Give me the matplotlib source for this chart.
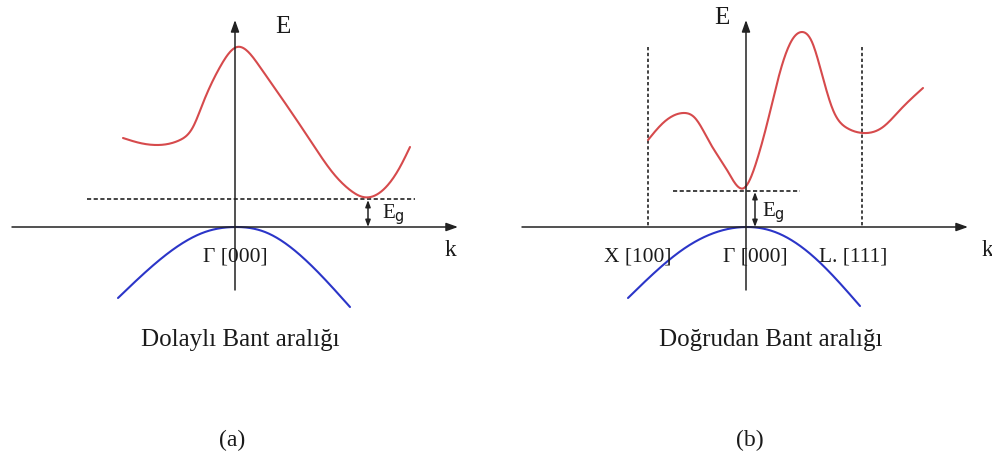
import numpy as np
import matplotlib
matplotlib.use("Agg")
import matplotlib.pyplot as plt

# conduction (red) and valence (blue) bands, read in pixel units (x right, y down)
cb_a_x = [123, 140, 157, 180, 193, 203, 220, 237, 260, 283, 310, 333, 350, 363, 383, 400, 410]
cb_a_y = [138, 143, 145, 140, 127, 103, 67, 47, 67, 100, 140, 173, 190, 197, 190, 167, 147]
vb_a_x = [118, 167, 205, 235, 265, 300, 350]
vb_a_y = [298, 254, 232, 227, 232, 255, 307]

cb_b_x = [648, 663, 683, 695, 710, 727, 744, 757, 768, 780, 792, 802, 812, 820, 833, 847, 863, 883, 900, 923]
cb_b_y = [140, 123, 113, 118, 143, 170, 188, 160, 120, 72, 40, 32, 42, 67, 110, 128, 133, 127, 110, 88]
vb_b_x = [628, 685, 720, 746, 775, 815, 860]
vb_b_y = [298, 248, 231, 227, 232, 258, 306]

sym_labels = ["X [100]", "Γ [000]", "L. [111]"]
sym_x = [638, 755, 853]
captions = ["Dolaylı Bant aralığı", "Doğrudan Bant aralığı"]
panel_tags = ["(a)", "(b)"]

RED = "#d64a4c"
BLUE = "#2b35c8"
SERIF = ["Liberation Serif", "DejaVu Serif"]
AX_Y = 227


def spline(xs, ys, n=400):
    # natural cubic spline y(x) through the control points
    x = np.asarray(xs, float)
    y = np.asarray(ys, float)
    h = np.diff(x)
    m = len(x)
    A = np.zeros((m, m))
    r = np.zeros(m)
    A[0, 0] = A[-1, -1] = 1
    for i in range(1, m - 1):
        A[i, i - 1] = h[i - 1]
        A[i, i] = 2 * (h[i - 1] + h[i])
        A[i, i + 1] = h[i]
        r[i] = 6 * ((y[i + 1] - y[i]) / h[i] - (y[i] - y[i - 1]) / h[i - 1])
    M = np.linalg.solve(A, r)
    xx = np.linspace(x[0], x[-1], n)
    k = np.clip(np.searchsorted(x, xx) - 1, 0, m - 2)
    a = x[k + 1] - xx
    b = xx - x[k]
    hk = h[k]
    yy = (M[k] * a ** 3 + M[k + 1] * b ** 3) / (6 * hk) \
        + (y[k] / hk - M[k] * hk / 6) * a + (y[k + 1] / hk - M[k + 1] * hk / 6) * b
    return xx, yy


fig = plt.figure(figsize=(9.92, 4.59), dpi=100)
ax = fig.add_axes([0, 0, 1, 1])
ax.set_xlim(0, 992)
ax.set_ylim(459, 0)
ax.axis("off")

axis_kw = dict(arrowstyle="-|>,head_length=0.7,head_width=0.25", color="#222222", lw=1.1,
               shrinkA=0, shrinkB=0)

# panel (a) axes
ax.annotate("", xy=(458, AX_Y), xytext=(12, AX_Y), arrowprops=axis_kw)
ax.annotate("", xy=(235, 20), xytext=(235, 290), arrowprops=axis_kw)
# panel (b) axes
ax.annotate("", xy=(968, AX_Y), xytext=(522, AX_Y), arrowprops=axis_kw)
ax.annotate("", xy=(746, 20), xytext=(746, 290), arrowprops=axis_kw)

# zone-boundary markers in (b)
for xv in [648, 862]:
    ax.plot([xv, xv], [47, AX_Y], color="#222222", lw=1.2, ls=(0, (2, 1.5)))

# band edge reference lines
ax.plot([87, 415], [199, 199], color="#222222", lw=1.2, ls=(0, (2.5, 1.5)))
ax.plot([673, 800], [191, 191], color="#222222", lw=1.2, ls=(0, (2.5, 1.5)))

for xs, ys, c in [(cb_a_x, cb_a_y, RED), (vb_a_x, vb_a_y, BLUE),
                  (cb_b_x, cb_b_y, RED), (vb_b_x, vb_b_y, BLUE)]:
    sx, sy = spline(xs, ys)
    ax.plot(sx, sy, color=c, lw=1.5, solid_capstyle="round")

# gap arrows
gap_kw = dict(arrowstyle="<|-|>,head_length=0.4,head_width=0.15", color="#222222", lw=1.1,
              shrinkA=0, shrinkB=0)
ax.annotate("", xy=(368, 200), xytext=(368, AX_Y), arrowprops=gap_kw)
ax.annotate("", xy=(755, 192), xytext=(755, AX_Y), arrowprops=gap_kw)

txt = dict(family=SERIF, color="#1a1a1a")
ax.text(382, 215, r"E$_{\mathrm{g}}$", fontsize=15, ha="left", va="center", **txt)
ax.text(762, 213, r"E$_{\mathrm{g}}$", fontsize=15, ha="left", va="center", **txt)
ax.text(283, 27, "E", fontsize=18, ha="center", va="center", **txt)
ax.text(722, 18, "E", fontsize=18, ha="center", va="center", **txt)
ax.text(450, 250, "k", fontsize=17, ha="center", va="center", **txt)
ax.text(987, 250, "k", fontsize=17, ha="center", va="center", **txt)

ax.text(235, 257, "Γ [000]", fontsize=15.5, ha="center", va="center", **txt)
for lab, xv in zip(sym_labels, sym_x):
    ax.text(xv, 257, lab, fontsize=15.5, ha="center", va="center", **txt)

for cap, xc in zip(captions, [240, 771]):
    ax.text(xc, 340, cap, fontsize=18, ha="center", va="center", **txt)
for tag, xc in zip(panel_tags, [232, 750]):
    ax.text(xc, 440, tag, fontsize=17, ha="center", va="center", **txt)

fig.savefig("out.png", dpi=100)
